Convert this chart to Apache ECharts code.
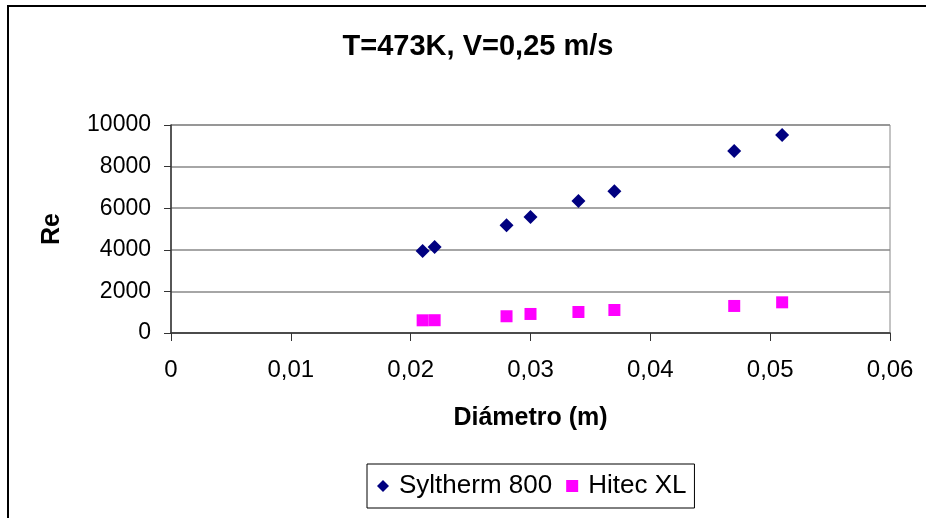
<!DOCTYPE html>
<html>
<head>
<meta charset="utf-8">
<script src="https://cdn.jsdelivr.net/npm/echarts@6/dist/echarts.min.js"></script>
<style>html,body{margin:0;padding:0;background:#fff;overflow:hidden}#c{width:926px;height:518px}</style>
</head>
<body>
<div id="c"></div>
<script>
const diameters = [0.021, 0.022, 0.028, 0.030, 0.034, 0.037, 0.047, 0.051];
const syltherm = [3940, 4135, 5180, 5580, 6345, 6810, 8750, 9520];
const hitec = [610, 615, 805, 915, 1010, 1105, 1300, 1475];
const seriesNames = ['Syltherm 800', 'Hitec XL'];
const titleText = 'T=473K, V=0,25 m/s';
const xName = 'Diámetro (m)';
const yName = 'Re';

const font = '"Liberation Sans", Arial, sans-serif';
const chart = echarts.init(document.getElementById('c'), null, {renderer: 'canvas'});
chart.setOption({
  animation: false,
  backgroundColor: '#fff',
  graphic: [
    {type: 'line', shape: {x1: 8, y1: 5, x2: 8, y2: 530}, style: {stroke: '#000', lineWidth: 2}, silent: true, z: 100},
    {type: 'line', shape: {x1: 7, y1: 6, x2: 926, y2: 6}, style: {stroke: '#000', lineWidth: 2}, silent: true, z: 100}
  ],
  title: {
    text: titleText, left: 473, top: 27, textAlign: 'center',
    textStyle: {fontFamily: font, fontWeight: 'bold', fontSize: 29, color: '#000'}
  },
  grid: {
    left: 171, top: 125, width: 719, height: 208,
    show: true, borderColor: '#888', borderWidth: 1, backgroundColor: 'transparent'
  },
  legend: {
    left: 367, top: 464,
    padding: [9, 8, 9, 10],
    borderColor: '#000', borderWidth: 1,
    itemWidth: 12, itemHeight: 12, itemGap: 14,
    textStyle: {fontFamily: font, fontSize: 26, color: '#000', padding: [0, 0, 0, 5]},
    data: [{name: seriesNames[0], icon: 'diamond'}, {name: seriesNames[1], icon: 'rect'}]
  },
  xAxis: {
    type: 'value', min: 0, max: 0.06, interval: 0.01,
    name: xName, nameLocation: 'middle', nameGap: 73,
    nameTextStyle: {fontFamily: font, fontWeight: 'bold', fontSize: 25, color: '#000'},
    axisLine: {show: true, onZero: false, lineStyle: {color: '#333', width: 1.5}},
    axisTick: {show: true, length: 8, lineStyle: {color: '#333'}},
    axisLabel: {
      margin: 25, fontFamily: font, fontSize: 24, color: '#000',
      formatter: v => v === 0 ? '0' : v.toFixed(2).replace('.', ',')
    },
    splitLine: {show: false}
  },
  yAxis: {
    type: 'value', min: 0, max: 10000, interval: 2000,
    name: yName, nameLocation: 'middle', nameGap: 106, nameRotate: 90,
    nameTextStyle: {fontFamily: font, fontWeight: 'bold', fontSize: 25, color: '#000'},
    axisLine: {show: true, lineStyle: {color: '#333', width: 1.5}},
    axisTick: {show: true, length: 7, inside: false, lineStyle: {color: '#333'}},
    axisLabel: {margin: 20, fontFamily: font, fontSize: 23, color: '#000', formatter: v => String(v)},
    splitLine: {show: true, lineStyle: {color: '#888', width: 1.5}}
  },
  series: [
    {
      name: seriesNames[0], type: 'scatter', symbol: 'diamond', symbolSize: 14,
      itemStyle: {color: '#000080', opacity: 1},
      data: diameters.map((d, i) => [d, syltherm[i]])
    },
    {
      name: seriesNames[1], type: 'scatter', symbol: 'rect', symbolSize: 12,
      itemStyle: {color: '#ff00ff', opacity: 1},
      data: diameters.map((d, i) => [d, hitec[i]])
    }
  ]
});
</script>
</body>
</html>
